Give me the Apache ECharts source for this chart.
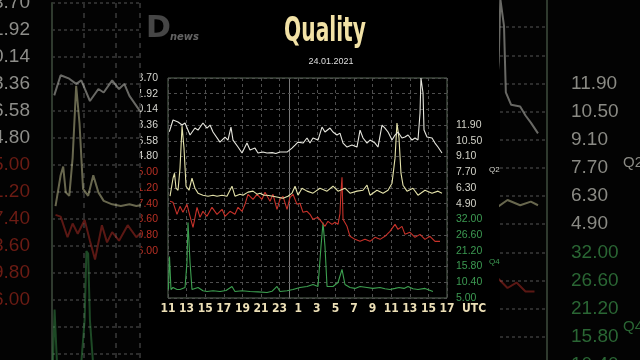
<!DOCTYPE html>
<html><head><meta charset="utf-8">
<script src="https://cdn.jsdelivr.net/npm/echarts@6/dist/echarts.min.js"></script>
<style>html,body{margin:0;padding:0;background:#000}#c{width:640px;height:360px}</style>
</head><body><div id="c"></div>
<script>
// ---------- data ----------
const titleText = 'Quality';
const dateText = '24.01.2021';
const logoText = ['D', 'news'];
// x axis: hours since 11:00 UTC (23.01) ; tick every 2 h
const xTickLabels = ['11','13','15','17','19','21','23','1','3','5','7','9','11','13','15','17'];
const midnightHour = 13;
// tick labels of each panel (top to bottom) and the grid row of the first one
const q1Ticks = [13.70, 11.92, 10.14, 8.36, 6.58, 4.80]; const q1Row = 0;
const q3Ticks = [45.00, 41.20, 37.40, 33.60, 29.80, 26.00]; const q3Row = 6;
const q2Ticks = [11.90, 10.50, 9.10, 7.70, 6.30, 4.90]; const q2Row = 3;
const q4Ticks = [32.00, 26.60, 21.20, 15.80, 10.40, 5.00]; const q4Row = 9;
const totalRows = 14;

// [hour since 11:00, value]
const q1 = [[0.14,7.61],[0.54,8.94],[1.08,8.71],[1.51,8.37],[1.83,8.60],[2.37,7.24],[2.90,8.03],[3.23,7.80],[3.76,8.60],[4.19,8.03],[4.52,8.37],[4.84,7.58],[5.59,6.44],[6.13,7.01],[6.45,6.67],[6.77,8.14],[6.99,6.67],[7.53,5.88],[7.96,5.20],[8.49,6.33],[8.82,5.54],[9.35,5.76],[9.68,5.20],[10.2,5.31],[10.65,5.20],[11.2,5.25],[11.6,5.14],[12.04,5.31],[12.80,5.31],[13.33,5.76],[13.66,6.10],[13.98,6.44],[14.52,6.33],[14.95,6.90],[15.27,6.33],[15.59,6.90],[16.13,6.67],[16.56,8.14],[16.88,7.58],[17.42,8.03],[17.74,7.58],[18.17,7.24],[18.49,7.46],[18.82,6.33],[19.25,5.88],[19.78,6.10],[20.32,5.88],[20.65,7.80],[20.97,6.90],[21.40,6.33],[21.72,6.67],[22.26,6.33],[22.58,5.88],[23.01,8.37],[23.33,8.03],[23.66,7.58],[24.09,6.67],[24.41,7.24],[24.73,7.58],[25.16,6.90],[25.48,7.01],[25.81,7.24],[26.24,6.67],[26.56,6.90],[26.88,6.67],[27.10,9.73],[27.20,13.70],[27.42,12.00],[27.53,7.80],[27.85,7.01],[28.39,6.90],[28.71,6.33],[29.03,5.88],[29.46,5.20]];
const q2 = [[0.22,5.57],[0.54,7.17],[0.70,7.62],[0.86,6.28],[1.08,6.10],[1.29,8.07],[1.51,11.81],[1.72,9.85],[1.94,6.46],[2.26,6.10],[2.58,7.17],[2.90,6.28],[3.23,5.84],[3.76,5.66],[4.30,5.57],[4.84,5.66],[5.27,5.57],[5.81,5.66],[6.34,5.57],[6.88,6.46],[7.20,5.57],[7.74,5.75],[8.06,5.66],[8.60,5.93],[9.14,6.02],[9.57,5.75],[9.89,5.84],[10.32,5.66],[10.65,5.66],[11.29,5.57],[11.83,5.48],[12.37,5.39],[12.90,5.57],[13.33,5.84],[13.66,6.46],[13.98,5.66],[14.41,6.28],[14.95,6.02],[15.59,5.84],[16.34,6.28],[17.10,6.02],[17.74,6.46],[18.28,6.02],[19.03,6.28],[19.57,5.84],[20.32,6.02],[20.97,6.10],[21.40,6.55],[21.72,5.66],[22.47,6.10],[23.12,5.84],[23.66,6.10],[24.09,6.73],[24.41,8.96],[24.62,12.08],[24.84,10.74],[25.05,7.62],[25.27,6.55],[25.70,6.02],[26.34,6.28],[26.88,5.66],[27.63,6.10],[28.39,5.84],[29.03,6.02],[29.46,5.84]];
const q3 = [[0.22,37.98],[0.54,37.74],[0.97,34.83],[1.29,36.77],[1.61,35.32],[2.04,37.25],[2.37,34.35],[2.69,31.69],[3.12,36.53],[3.44,34.11],[3.76,35.56],[4.19,34.35],[4.73,36.53],[5.27,34.83],[5.81,36.04],[6.13,34.35],[6.67,35.56],[7.20,34.83],[7.53,36.53],[7.96,35.56],[8.28,37.25],[8.60,39.68],[9.14,38.46],[9.57,39.68],[10.11,38.46],[10.43,40.16],[10.97,37.98],[11.29,39.68],[11.72,36.04],[12.04,38.46],[12.37,39.19],[12.80,36.04],[13.12,38.95],[13.44,39.68],[13.87,37.25],[14.19,37.50],[14.52,35.32],[14.95,35.56],[15.27,34.83],[15.59,33.62],[16.13,34.11],[16.56,32.90],[16.88,31.93],[17.20,33.14],[17.63,32.41],[17.96,32.90],[18.28,32.41],[18.49,35.00],[18.60,40.16],[18.71,43.79],[18.82,33.62],[19.25,31.93],[19.57,29.51],[20.11,28.78],[20.65,28.30],[21.18,28.78],[21.72,28.30],[22.26,29.27],[22.80,28.78],[23.33,29.51],[23.87,30.72],[24.41,32.41],[24.73,31.20],[25.16,31.93],[25.48,29.99],[26.02,30.48],[26.56,29.27],[27.10,29.99],[27.63,28.78],[28.17,29.51],[28.71,28.30],[29.25,28.30]];
const q4 = [[0.05,7.90],[0.16,19.27],[0.32,7.92],[0.54,8.61],[0.97,7.90],[1.29,7.92],[1.83,8.61],[2.04,17.21],[2.15,30.97],[2.26,30.50],[2.37,17.21],[2.58,7.92],[3.23,8.61],[3.76,7.50],[4.19,7.24],[4.84,7.50],[5.59,7.24],[6.24,7.60],[6.88,8.96],[7.20,7.24],[7.96,7.50],[8.82,7.24],[9.68,7.10],[10.65,6.89],[11.18,7.30],[11.72,8.96],[12.04,7.24],[12.80,7.50],[13.44,7.92],[14.19,8.61],[14.95,8.96],[15.59,9.64],[16.13,8.96],[16.45,22.71],[16.67,30.97],[16.88,22.71],[17.10,8.96],[17.74,8.96],[18.28,10.33],[18.71,14.80],[19.03,9.64],[19.57,8.61],[20.11,8.30],[20.65,8.96],[21.40,8.61],[22.04,8.30],[22.80,8.61],[23.33,8.20],[23.87,7.92],[24.41,8.30],[24.84,8.61],[25.38,8.30],[25.81,8.96],[26.34,8.20],[26.88,7.92],[27.63,8.30],[28.49,7.24]];

// ---------- styling ----------
const C = {q1:'#e6e6de', q2:'#e4e2aa', q3:'#c8322a', q4:'#3da050',
  l1:'#d6d6d0', l2:'#d2d2c8', l3:'#b83024', l4:'#3c9a52', grid:'#4e4e4e', frame:'#5a6a58', x:'#ecdfb6'};
const NARROW = "'DejaVu Sans Condensed','Liberation Sans Narrow','Liberation Sans',sans-serif";

function axisRange(ticks, row){
  const step = +(ticks[0]-ticks[1]).toFixed(4);
  const max = +(ticks[0] + row*step).toFixed(4);
  const min = +(max - totalRows*step).toFixed(4);
  return {min, max, interval: step};
}
function yAxisDef(ticks,row,grid,pos,opt){
  const r = axisRange(ticks,row);
  const lo = ticks[ticks.length-1]-1e-6, hi = ticks[0]+1e-6;
  return Object.assign({
    type:'value', gridIndex:grid, position:pos, min:r.min, max:r.max, interval:r.interval,
    axisLine:{show:false}, axisTick:{show:false},
    axisLabel:{show: opt.labels!==false, showMinLabel:true, showMaxLabel:true, color:opt.color, fontSize:opt.fs||10.5,
      margin:opt.margin||9, fontFamily:"'Liberation Sans',Arial,sans-serif",
      formatter: v => (v>=lo && v<=hi) ? v.toFixed(2) : ''},
    splitLine:{show: !!opt.split, lineStyle:{color:opt.splitColor||C.grid, type:[3,3], width:opt.splitW||1}},
    z: opt.z||10
  }, opt.extra||{});
}

const yAxes = [
  // main grid 0
  yAxisDef(q1Ticks,q1Row,0,'left',{color:C.l1, split:true, margin:10}),
  yAxisDef(q3Ticks,q3Row,0,'left',{color:C.l3, margin:10}),
  yAxisDef(q2Ticks,q2Row,0,'right',{color:C.l2, margin:9}),
  yAxisDef(q4Ticks,q4Row,0,'right',{color:C.l4, margin:9}),
  // left blurred copy grid 1
  yAxisDef(q1Ticks,q1Row,1,'left',{color:'#8e8e8a', fs:19, margin:22, split:true, splitColor:'#2c2c2c', splitW:2, z:21,
     extra:{axisLine:{show:true, lineStyle:{color:'#2f3a2e', width:2}}}}),
  yAxisDef(q3Ticks,q3Row,1,'left',{color:'#6c1c14', fs:19, margin:22, z:21}),
  yAxisDef(q2Ticks,q2Row,1,'right',{labels:false, z:21}),
  yAxisDef(q4Ticks,q4Row,1,'right',{labels:false, z:21}),
  // right blurred copy grid 2
  yAxisDef(q2Ticks,q2Row,2,'right',{color:'#8a8a84', fs:19, margin:24, split:true, splitColor:'#2c2c2c', splitW:2, z:21,
     extra:{axisLine:{show:true, lineStyle:{color:'#2f3a2e', width:2}}}}),
  yAxisDef(q4Ticks,q4Row,2,'right',{color:'#2a6634', fs:19, margin:24, z:21}),
  yAxisDef(q1Ticks,q1Row,2,'left',{labels:false, z:21}),
  yAxisDef(q3Ticks,q3Row,2,'left',{labels:false, z:21})
];

const xAxes = [
  {type:'value', gridIndex:0, min:0, max:30, interval:2, z:10,
   axisLine:{show:false}, axisTick:{show:false},
   axisLabel:{color:C.x, fontSize:12, fontWeight:'bold', fontFamily:NARROW, margin:5, showMinLabel:true, showMaxLabel:true,
     formatter: v => xTickLabels[Math.round(v/2)] || ''},
   splitLine:{show:true, lineStyle:{color:C.grid, type:[3,3]}}},
  {type:'value', gridIndex:1, min:0, max:5.5, interval:2, z:21, axisLine:{show:false}, axisTick:{show:false}, axisLabel:{show:false},
   splitLine:{show:true, lineStyle:{color:'#2c2c2c', type:[5,5], width:2}}},
  {type:'value', gridIndex:2, min:27.18, max:30, z:21, axisLine:{show:false}, axisTick:{show:false}, axisLabel:{show:false}, splitLine:{show:false}}
];

function line(data, color, xi, yi, w, z, op, extra){
  return Object.assign({type:'line', data, xAxisIndex:xi, yAxisIndex:yi, showSymbol:false, symbol:'none', clip:true,
    lineStyle:{color, width:w, opacity:op}, itemStyle:{color}, z, silent:true, animation:false}, extra||{});
}

const series = [
  line(q4, C.q4, 0, 3, 1.1, 11, 1),
  line(q3, C.q3, 0, 1, 1.1, 11, 1),
  line(q2, C.q2, 0, 2, 1.1, 11, 1),
  line(q1, C.q1, 0, 0, 1.1, 12, 1, {markLine:{silent:true, symbol:'none', label:{show:false},
      lineStyle:{color:'#7a7a7a', type:'solid', width:1}, data:[{xAxis: midnightHour}], animation:false}}),
  // left copy
  line(q4, C.q4, 1, 7, 2, 22, 0.45),
  line(q3, C.q3, 1, 5, 2, 22, 0.45),
  line(q2, C.q2, 1, 6, 2, 22, 0.45),
  line(q1, C.q1, 1, 4, 2, 22, 0.45),
  // right copy
  line(q4, C.q4, 2, 9, 2, 22, 0.45),
  line(q3, C.q3, 2, 11, 2, 22, 0.45),
  line(q2, C.q2, 2, 8, 2, 22, 0.45),
  line(q1, C.q1, 2, 10, 2, 22, 0.45, {markLine:{silent:true, symbol:'none', label:{show:false},
      lineStyle:{color:'#2c2c2c', type:[5,5], width:2}, data:[{xAxis: 28}], animation:false}})
];

const chart = echarts.init(document.getElementById('c'), null, {renderer:'canvas'});
chart.setOption({
  backgroundColor:'#000',
  animation:false,
  grid:[
    {left:168, top:78, width:279, height:220, show:true, borderColor:C.frame, borderWidth:1, backgroundColor:'transparent', z:10, outerBoundsMode:'none', containLabel:false},
    {left:52, top:3, width:88, height:378, z:21, outerBoundsMode:'none', containLabel:false},
    {left:500, top:-1, width:47, height:394, z:21, outerBoundsMode:'none', containLabel:false}
  ],
  xAxis:xAxes, yAxis:yAxes, series,
  graphic:[
    {type:'rect', shape:{x:0,y:0,width:140,height:360}, style:{fill:'#030303'}, z:20, silent:true},
    {type:'rect', shape:{x:500,y:0,width:140,height:360}, style:{fill:'#030303'}, z:20, silent:true},
    {type:'text', x:146, y:14, z:30, style:{text:logoText[0], fill:'rgba(200,200,200,0.35)', font:"bold 30px 'DejaVu Sans',sans-serif"}},
    {type:'text', x:170, y:32, scaleX:0.9, z:30, style:{text:logoText[1], fill:'rgba(220,220,220,0.45)', font:"italic bold 11px 'DejaVu Sans',sans-serif"}},
    {type:'text', x:325, y:16, scaleX:0.68, z:30, style:{text:titleText, fill:'#f2e2a6', font:"bold 33px "+NARROW, textAlign:'center'}},
    {type:'text', x:331, y:57, z:30, style:{text:dateText, fill:'#dedede', font:"9px 'Liberation Sans',Arial,sans-serif", textAlign:'center'}},
    {type:'text', x:462, y:303, z:30, style:{text:'UTC', fill:C.x, font:"bold 12px "+NARROW}},
    {type:'text', x:489, y:166, z:30, style:{text:'Q2', fill:'#d8d8d0', font:"8px 'Liberation Sans',Arial,sans-serif"}},
    {type:'text', x:489, y:258, z:30, style:{text:'Q4', fill:C.l4, font:"8px 'Liberation Sans',Arial,sans-serif"}},
    {type:'text', x:623, y:155, z:30, style:{text:'Q2', fill:'#8a8a84', font:"15px 'Liberation Sans',Arial,sans-serif"}},
    {type:'text', x:623, y:319, z:30, style:{text:'Q4', fill:'#2a6634', font:"15px 'Liberation Sans',Arial,sans-serif"}}
  ]
});
</script></body></html>
